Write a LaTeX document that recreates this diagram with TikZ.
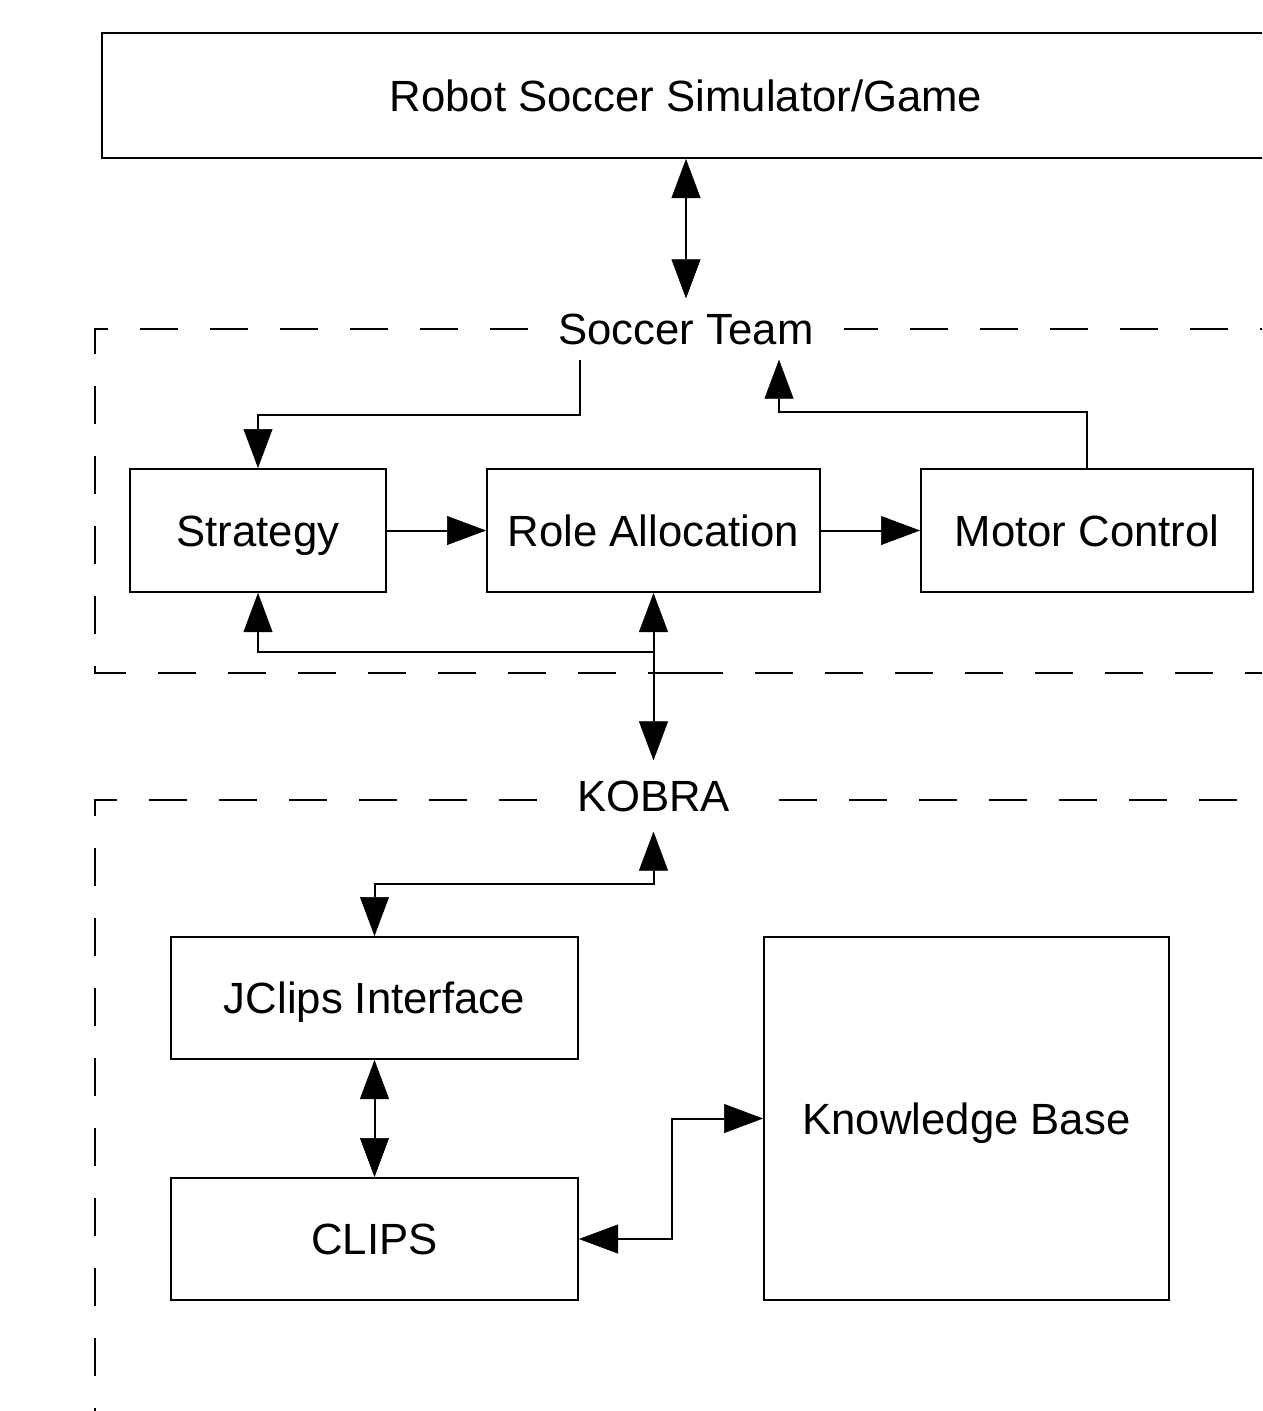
\documentclass[tikz,border=0pt]{standalone}
\usepackage{fontspec}
\setmainfont{Liberation Sans}
\usetikzlibrary{arrows.meta}
\tikzset{
  Tri/.tip={Triangle[length=39pt,width=29pt,line width=0.5pt]},
  txt/.style={font=\fontsize{43.7}{52}\selectfont, text height=31.3pt, text depth=0pt},
  box/.style={txt, draw, inner sep=0pt},
  lbl/.style={txt, fill=white, inner xsep=30pt},
  dashline/.style={dash pattern=on 38pt off 32pt},
  conn/.style={-Tri},
  dconn/.style={Tri-Tri}
}
\begin{document}
\begin{tikzpicture}[x=1pt,y=-1pt,line width=2pt]
\useasboundingbox (0,0) rectangle (1262,1411);
\clip (0,0) rectangle (1262,1411);
\fill[white] (0,0) rectangle (1262,1411);

% dashed group frames
\draw[dashline, dash phase=68pt] (1300,329) -- (95,329) -- (95,673) -- (686,673);
\draw[dashline] (685,673) -- (1300,673);
\draw[dashline, dash phase=66pt] (95,1450) -- (95,800) -- (1300,800);

% group labels
\node[lbl, inner ysep=14pt] (soccer) at (686,329) {Soccer Team};
\node[lbl, inner ysep=19pt] (kobra) at (653.5,796) {KOBRA};

% boxes
\node[box, minimum width=1168pt, minimum height=125pt] (title) at (686,95.5) {Robot Soccer Simulator/Game};
\node[box, minimum width=256pt, minimum height=123pt] (strategy) at (258,530.5) {Strategy};
\node[box, minimum width=333pt, minimum height=123pt] (role) at (653.5,530.5) {Role Allocation};
\node[box, minimum width=332pt, minimum height=123pt] (motor) at (1087,530.5) {Motor Control};
\node[box, minimum width=407pt, minimum height=122pt] (jclips) at (374.5,998) {JClips Interface};
\node[box, minimum width=407pt, minimum height=122pt] (clips) at (374.5,1239) {CLIPS};
\node[box, minimum width=405pt, minimum height=363pt] (kb) at (966.5,1118.5) {Knowledge Base};

% connectors
\draw[dconn] (title.south) -- (soccer.north);
\draw[conn] ([xshift=-106pt]soccer.south) -- ++(0,55) -| (strategy.north);
\draw[conn] (motor.north) -- ++(0,-56) -| ([xshift=93pt]soccer.south);
\draw[conn] (strategy.east) -- (role.west);
\draw[conn] (role.east) -- (motor.west);
\draw[dconn] (role.south) -- (kobra.north);
\path (role.south) ++(0,59) coordinate (j1);
\draw[conn] (j1) -| (strategy.south);
\draw[dconn] (kobra.south) -- ++(0,52) -| (jclips.north);
\draw[dconn] (jclips.south) -- (clips.north);
\draw[dconn] (clips.east) -- ++(93,0) |- (kb.west);
\end{tikzpicture}
\end{document}
